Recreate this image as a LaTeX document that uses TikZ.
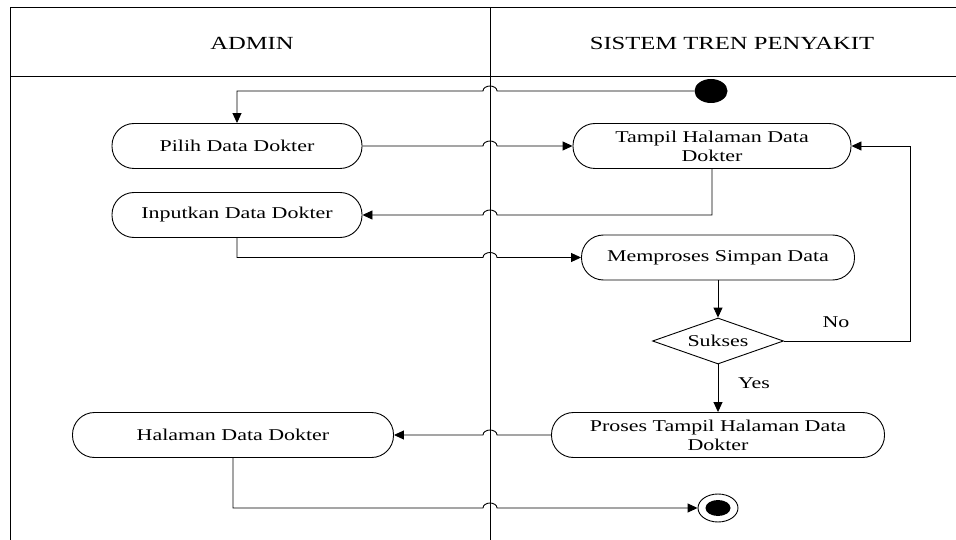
\documentclass[tikz,border=0pt]{standalone}
\usepackage{fontspec}
\setmainfont{Liberation Serif}[FakeStretch=1.33]
\usetikzlibrary{shapes.geometric,arrows.meta,calc}
\tikzset{
  act/.style={draw,rounded corners=22pt,minimum height=45pt,inner sep=0pt,align=center,font=\fontsize{16.5}{19}\selectfont},
  head/.style={font=\fontsize{18.5}{22}\selectfont},
  lbl/.style={font=\fontsize{16.5}{19}\selectfont},
  decision/.style={draw,diamond,aspect=2.85,minimum width=131pt,minimum height=46pt,inner sep=0pt,font=\fontsize{16.5}{19}\selectfont},
  startdot/.style={ellipse,fill,minimum width=33pt,minimum height=24pt,inner sep=0pt},
  endring/.style={ellipse,draw,minimum width=40pt,minimum height=28pt,inner sep=0pt},
  enddot/.style={ellipse,fill,minimum width=25pt,minimum height=16pt,inner sep=0pt}
}
\newcommand{\activity}[5]{\node[act,minimum width=#4pt] (#1) at (#2,#3) {#5};}
\newcommand{\hopR}{arc[start angle=180,end angle=0,x radius=7pt,y radius=5pt]}
\newcommand{\hopL}{arc[start angle=0,end angle=180,x radius=7pt,y radius=5pt]}
\begin{document}
\begin{tikzpicture}[x=1pt,y=-1pt,line width=0.9pt,>={Triangle[length=10pt,width=9pt]}]
    \useasboundingbox (0,0) rectangle (956,540);
    \draw (956,7) -- (10,7) -- (10,540); \draw (10,76) -- (956,76); \draw (490,7) -- (490,540);
    \coordinate (lane) at (490,0); \coordinate (back) at (910,341);
    \node[head] (admin) at (252,43) {ADMIN}; \node[head] (sistem) at (732,43) {SISTEM TREN PENYAKIT};

    \node[startdot] (start) at (711,91) {};
    \activity{pilih}{237}{146}{250}{Pilih Data Dokter}
    \activity{tampil}{712}{146}{278}{Tampil Halaman Data\\Dokter}
    \activity{inputkan}{237}{215}{250}{Inputkan Data Dokter}
    \activity{memproses}{718}{257.5}{273}{Memproses Simpan Data}
    \node[decision] (sukses) at (718,341) {Sukses};
    \activity{proses}{718}{435}{333}{Proses Tampil Halaman Data\\Dokter}
    \activity{halaman}{233}{435}{321}{Halaman Data Dokter}
    \node[endring] (finish) at (718,508) {}; \node[enddot] (finishdot) at (finish) {};
    \node[lbl] (no) at (836,322) {No}; \node[lbl] (yes) at (754,383) {Yes};

    \draw[->] (start.west) -- ($(start.west -| lane)+(7,0)$) \hopL -| (pilih.north);
    \draw[->] (pilih.east) -- ($(pilih.east -| lane)+(-7,0)$) \hopR -- (tampil.west);
    \draw[->] (tampil.south) |- ($(inputkan.east -| lane)+(7,0)$) \hopL -- (inputkan.east);
    \draw[->] (inputkan.south) |- ($(memproses.west -| lane)+(-7,0)$) \hopR -- (memproses.west);
    \draw[->] (memproses.south) -- (sukses.north);
    \draw[->] (sukses.east) -- (back) |- (tampil.east);
    \draw[->] (sukses.south) -- (proses.north);
    \draw[->] (proses.west) -- ($(proses.west -| lane)+(7,0)$) \hopL -- (halaman.east);
    \draw[->] (halaman.south) |- ($(finish.west -| lane)+(-7,0)$) \hopR -- (finish.west);
\end{tikzpicture}
\end{document}
